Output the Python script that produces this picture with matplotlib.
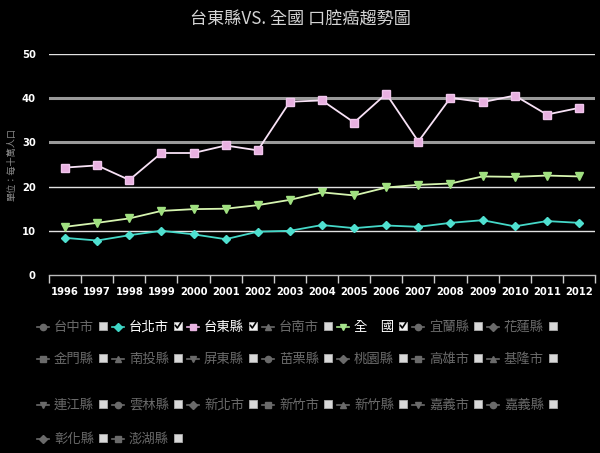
import matplotlib
matplotlib.use("Agg")
import matplotlib.pyplot as plt
from matplotlib.patches import Rectangle

plt.rcParams['font.family'] = ['Noto Sans CJK TC', 'DejaVu Sans']

# data
years = [str(y) for y in range(1996, 2013)]
taipei = [8.4, 7.8, 9.0, 10.0, 9.2, 8.1, 9.8, 10.0, 11.3, 10.6, 11.2, 10.9,
          11.8, 12.4, 11.0, 12.2, 11.8]
taitung = [24.3, 24.8, 21.5, 27.6, 27.6, 29.3, 28.2, 39.2, 39.5, 34.5, 41.0,
           30.2, 40.1, 39.1, 40.6, 36.3, 37.8]
national = [10.9, 11.8, 12.8, 14.5, 14.9, 15.0, 15.8, 17.0, 18.7, 18.0, 19.8,
            20.4, 20.7, 22.3, 22.2, 22.5, 22.3]
yticks = [0, 10, 20, 30, 40, 50]

legend_names = ['台中市', '台北市', '台東縣', '台南市', '全\u3000國', '宜蘭縣', '花蓮縣',
                '金門縣', '南投縣', '屏東縣', '苗栗縣', '桃園縣', '高雄市', '基隆市',
                '連江縣', '雲林縣', '新北市', '新竹市', '新竹縣', '嘉義市', '嘉義縣',
                '彰化縣', '澎湖縣']
marker_cycle = ['o', 'D', 's', '^', 'v']
active = {'台北市': '#3fd6c6', '台東縣': '#e8b4e2', '全\u3000國': '#a6e48c'}

fig = plt.figure(figsize=(6, 4.53), dpi=100, facecolor='black')
W, H = 600, 453

ax = fig.add_axes([49 / W, 1 - 275 / H, 546 / W, 221 / H])
ax.set_facecolor('black')
x = list(range(len(years)))

ax.plot(x, taipei, color='#45d8c8', lw=1.3, marker='D', ms=4.5,
        mfc='#4fe0d0', mec='#4fe0d0', zorder=3)
ax.plot(x, taitung, color='#f8e2f6', lw=1.3, marker='s', ms=6,
        mfc='#e8b0e0', mec='#f0c6ec', mew=1, zorder=3)
ax.plot(x, national, color='#d6f5b0', lw=1.3, marker='v', ms=6,
        mfc='#a0e080', mec='#a0e080', zorder=3)

ax.set_xlim(-0.5, len(years) - 0.5)
ax.set_ylim(0, 50)
ax.set_yticks(yticks)
ax.set_yticklabels([str(v) for v in yticks])
ax.set_xticks(x)
ax.set_xticklabels(years)
ax.set_xticks([i - 0.5 for i in range(len(years) + 1)], minor=True)
ax.tick_params(axis='x', which='major', length=0, pad=8.5, colors='white',
               labelsize=7.2)
ax.tick_params(axis='x', which='minor', length=6, width=1, color='#cccccc',
               direction='out')
ax.tick_params(axis='y', length=0, pad=9.5, colors='white', labelsize=7.2)
for lab in ax.get_xticklabels() + ax.get_yticklabels():
    lab.set_family('DejaVu Sans')
    lab.set_fontweight('bold')

for v in yticks[1:]:
    if v in (30, 40):
        ax.axhline(v, color='#9a9a9a', lw=2.2, zorder=1)
    else:
        ax.axhline(v, color='#e2e2e2', lw=1, zorder=1)

for s in ['top', 'right', 'left']:
    ax.spines[s].set_visible(False)
ax.spines['bottom'].set_color('#bbbbbb')
ax.spines['bottom'].set_linewidth(1)

ax.set_ylabel('單位：每十萬人口', color='#8a8a8a', fontsize=6.6)
ax.yaxis.set_label_coords(-33 / 546, 0.5)

fig.text(0.5, 1 - 20 / H, '台東縣VS. 全國 口腔癌趨勢圖', ha='center', va='center',
         color='#d4d4d4', fontsize=12.3)

# legend drawn in pixel space
lg = fig.add_axes([0, 0, 1, 1])
lg.set_xlim(0, W)
lg.set_ylim(H, 0)
lg.axis('off')
lg.patch.set_alpha(0)

row_y = [327, 359, 405, 439]
for i, name in enumerate(legend_names):
    r, c = divmod(i, 7)
    x0 = 43 + 75 * c
    y0 = row_y[r]
    col = active.get(name, '#6a6a6a')
    tcol = 'white' if name in active else '#6a6a6a'
    lg.plot([x0 - 6, x0 + 6], [y0, y0], color=col, lw=1.2)
    lg.plot([x0], [y0], marker=marker_cycle[i % 5], color=col, ms=4.5)
    lg.text(x0 + 11, y0, name, color=tcol, fontsize=9.6, va='center', ha='left')
    cx, cy = x0 + 60, y0 - 1.5
    if name in active:
        lg.add_patch(Rectangle((cx - 4, cy - 4), 8, 8, facecolor='#f0f0f0',
                               edgecolor='#bbbbbb', lw=0.6))
        lg.plot([cx - 2.5, cx - 0.7, cx + 2.8], [cy, cy + 2.5, cy - 2.8],
                color='black', lw=1.2)
    else:
        lg.add_patch(Rectangle((cx - 4, cy - 4), 8, 8, facecolor='#d8d8d8',
                               edgecolor='#aaaaaa', lw=0.6))

fig.savefig('out.png', dpi=100, facecolor='black')
